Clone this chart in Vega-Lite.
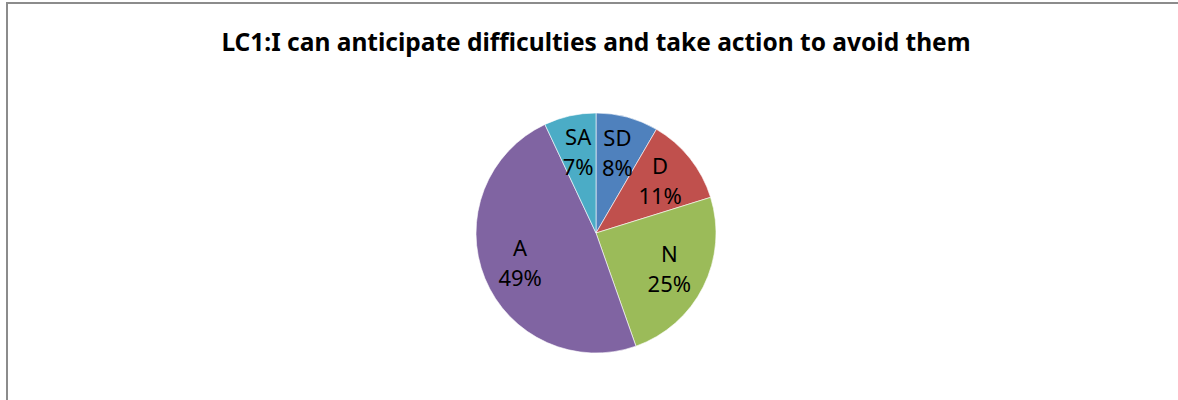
{
  "$schema": "https://vega.github.io/schema/vega-lite/v6.json",
  "width": 1178,
  "height": 460,
  "padding": {"left": 7, "top": 3, "right": 0, "bottom": 0},
  "autosize": {"type": "none"},
  "background": "white",
  "view": {"stroke": "#8c8c8c", "strokeWidth": 2},
  "title": {
    "text": "LC1:I can anticipate difficulties and take action to avoid them",
    "font": "Noto Sans",
    "fontSize": 24.5,
    "fontWeight": "bold",
    "color": "#000000",
    "anchor": "middle",
    "orient": "top",
    "offset": -72,
    "baseline": "alphabetic"
  },
  "data": {
    "values": [
      {"rank": 1, "category": "SD", "share": 8.4, "label": "8%"},
      {"rank": 2, "category": "D", "share": 11.8, "label": "11%"},
      {"rank": 3, "category": "N", "share": 24.4, "label": "25%"},
      {"rank": 4, "category": "A", "share": 48.4, "label": "49%"},
      {"rank": 5, "category": "SA", "share": 7.0, "label": "7%"}
    ]
  },
  "encoding": {
    "theta": {"field": "share", "type": "quantitative", "stack": true},
    "order": {"field": "rank", "type": "quantitative", "sort": "ascending"}
  },
  "layer": [
    {
      "mark": {"type": "arc", "radius": 120, "stroke": "#ffffff", "strokeWidth": 0.6},
      "encoding": {
        "color": {
          "field": "category",
          "type": "nominal",
          "scale": {
            "domain": ["SD", "D", "N", "A", "SA"],
            "range": ["#4F81BD", "#C0504D", "#9BBB59", "#8064A2", "#4BACC6"]
          },
          "legend": null
        }
      }
    },
    {
      "mark": {"type": "text", "radius": 82, "dy": -15, "font": "Noto Sans", "fontSize": 22, "color": "#000000"},
      "encoding": {"text": {"field": "category", "type": "nominal"}}
    },
    {
      "mark": {"type": "text", "radius": 82, "dy": 15, "font": "Noto Sans", "fontSize": 22, "color": "#000000"},
      "encoding": {"text": {"field": "label", "type": "nominal"}}
    }
  ]
}
